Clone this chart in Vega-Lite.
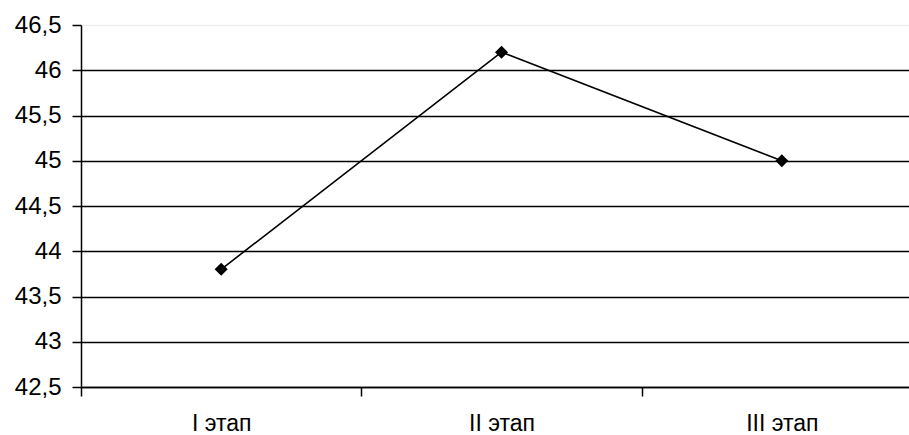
{
  "$schema": "https://vega.github.io/schema/vega-lite/v6.json",
  "width": 828,
  "height": 362,
  "autosize": "none",
  "padding": {"left": 81, "top": 25, "right": 0, "bottom": 48},
  "background": "white",
  "config": {"view": {"stroke": null}, "font": "Liberation Sans"},
  "data": {"values": [
    {"stage": "I этап", "value": 43.8},
    {"stage": "II этап", "value": 46.2},
    {"stage": "III этап", "value": 45.0}
  ]},
  "encoding": {
    "x": {"field": "stage", "type": "nominal", "sort": null,
      "scale": {"type": "band", "range": [0, 841], "paddingInner": 0, "paddingOuter": 0},
      "axis": {"title": null, "labelAngle": 0, "labelFontSize": 23, "labelColor": "black", "labelPadding": 16,
        "domainColor": "black", "domainWidth": 1.5, "tickColor": "black", "tickWidth": 1.5, "tickSize": 9, "tickBand": "extent", "grid": false}},
    "y": {"field": "value", "type": "quantitative",
      "scale": {"domain": [42.5, 46.5], "nice": false, "zero": false},
      "axis": {"title": null, "values": [42.5, 43, 43.5, 44, 44.5, 45, 45.5, 46, 46.5],
        "labelExpr": "replace(format(datum.value, '.1~f'), '.', ',')",
        "labelFontSize": 24, "labelColor": "black", "labelPadding": 11,
        "domainColor": "black", "domainWidth": 1.5, "tickColor": "black", "tickWidth": 1.5, "tickSize": 9,
        "grid": true, "gridWidth": 1.5,
        "gridColor": {"condition": {"test": "datum.value == 46.5", "value": "#eeeeee"}, "value": "black"}}}
  },
  "layer": [
    {"mark": {"type": "line", "color": "black", "strokeWidth": 1.6}},
    {"mark": {"type": "point", "shape": "diamond", "filled": true, "color": "black", "size": 170, "opacity": 1}}
  ]
}
